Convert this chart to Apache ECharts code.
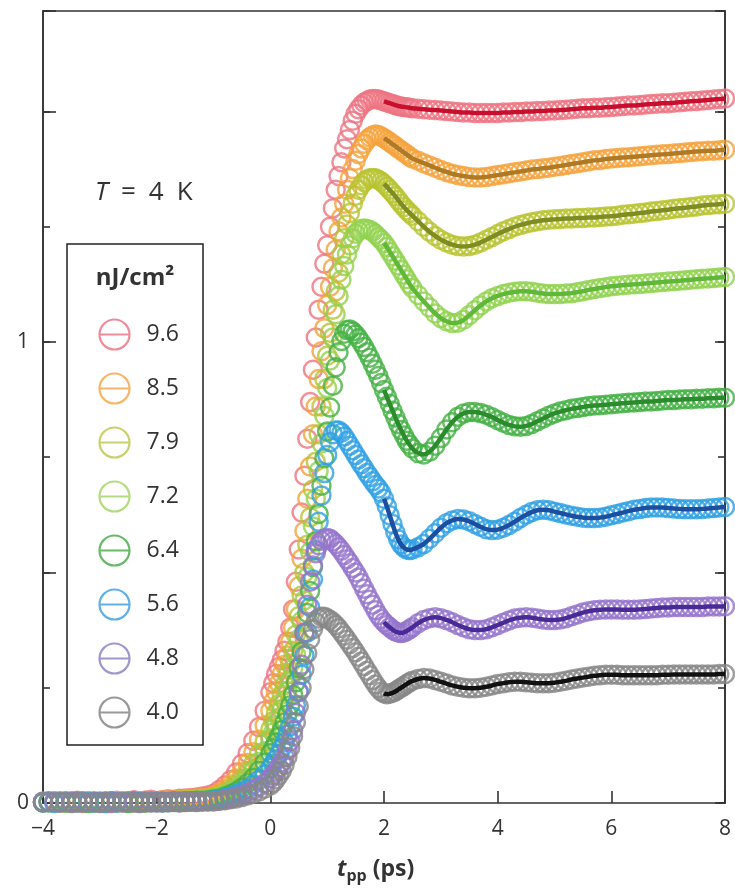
<!DOCTYPE html>
<html><head><meta charset="utf-8">
<script src="https://cdn.jsdelivr.net/npm/echarts@6/dist/echarts.min.js"></script>
<style>html,body{margin:0;padding:0;background:#fff}#c{width:735px;height:892px}</style>
</head><body><div id="c"></div>
<script>
// time axis (ps)
const times = [
-4,-3.9,-3.8,-3.7,-3.6,-3.5,-3.4,-3.3,-3.2,-3.1,
-3,-2.9,-2.8,-2.7,-2.6,-2.5,-2.4,-2.3,-2.2,-2.1,
-2,-1.9,-1.8,-1.7,-1.6,-1.5,-1.4,-1.3,-1.2,
-1.1,-1,-0.9,-0.8,-0.7,-0.6,-0.5,-0.4,-0.3,-0.2,-0.1,
0,0.05,0.1,0.15,0.2,0.25,0.3,0.35,0.4,0.45,
0.5,0.55,0.6,0.65,0.7,0.75,0.8,0.85,0.9,0.95,
1,1.05,1.1,1.15,1.2,1.25,1.3,1.35,1.4,1.45,
1.5,1.55,1.6,1.65,1.7,1.75,1.8,1.85,1.9,1.95,
2,2.05,2.1,2.15,2.2,2.25,2.3,2.35,2.4,2.45,
2.5,
2.6,2.7,2.8,2.9,3,3.1,3.2,3.3,3.4,3.5,
3.6,3.7,3.8,3.9,4,4.1,4.2,4.3,4.4,4.5,
4.6,4.7,4.8,4.9,5,5.1,5.2,5.3,5.4,5.5,
5.6,5.7,5.8,5.9,6,6.1,6.2,6.3,6.4,6.5,
6.6,6.7,6.8,6.9,7,7.1,7.2,7.3,7.4,7.5,
7.6,7.7,7.8,7.9,8];

const fluences = ['9.6','8.5','7.9','7.2','6.4','5.6','4.8','4.0'];

const v96 = [
0.003,-0.002,0.004,0.001,-0.003,0.002,0.005,0,0.003,0.004,
0.002,-0.001,0.003,0.005,0.002,0.004,0.006,0.003,0.005,0.007,
0.004,0.006,0.008,0.007,0.009,0.01,0.011,0.012,0.014,
0.016,0.02,0.028,0.038,0.05,0.066,0.085,0.108,0.135,0.165,0.2,
0.24,0.26,0.28,0.295,0.31,0.33,0.35,0.38,0.42,0.48,
0.55,0.63,0.71,0.79,0.87,0.94,1.01,1.07,1.12,1.17,
1.21,1.25,1.29,1.33,1.36,1.39,1.42,1.44,1.46,1.48,
1.495,1.505,1.513,1.519,1.523,1.526,1.527,1.527,1.526,1.524,
1.522,1.52,1.518,1.516,1.514,1.512,1.511,1.51,1.509,1.508,
1.507,
1.506,1.505,1.504,1.503,1.502,1.501,1.5,1.499,1.498,1.498,
1.497,1.497,1.497,1.497,1.497,1.498,1.498,1.499,1.499,1.5,
1.5,1.501,1.501,1.502,1.502,1.503,1.504,1.505,1.506,1.507,
1.507,1.508,1.508,1.509,1.51,1.511,1.512,1.513,1.513,1.514,
1.515,1.516,1.517,1.518,1.518,1.519,1.52,1.521,1.522,1.523,
1.524,1.525,1.526,1.527,1.528];

const v85 = [
0.002,0.004,-0.001,0.003,0.001,-0.002,0.003,0.004,0.001,0.002,
0.004,0.001,-0.002,0.002,0.003,0.001,0.004,0.002,0.005,0.003,
0.004,0.006,0.005,0.006,0.007,0.008,0.009,0.01,0.011,
0.012,0.016,0.022,0.03,0.04,0.053,0.068,0.087,0.11,0.137,0.168,
0.2,0.22,0.24,0.26,0.28,0.3,0.32,0.35,0.38,0.42,
0.47,0.53,0.59,0.66,0.73,0.8,0.86,0.92,0.98,1.03,
1.08,1.12,1.16,1.2,1.24,1.27,1.3,1.33,1.355,1.375,
1.393,1.408,1.42,1.43,1.438,1.444,1.448,1.45,1.449,1.446,
1.442,1.438,1.434,1.429,1.425,1.42,1.416,1.411,1.407,1.402,
1.398,
1.393,1.388,1.383,1.378,1.373,1.369,1.365,1.362,1.36,1.358,
1.357,1.357,1.358,1.36,1.362,1.364,1.366,1.368,1.37,1.372,
1.374,1.375,1.377,1.378,1.38,1.382,1.384,1.386,1.388,1.39,
1.392,1.394,1.395,1.397,1.398,1.399,1.4,1.401,1.402,1.403,
1.404,1.405,1.406,1.407,1.408,1.409,1.41,1.411,1.412,1.413,
1.414,1.415,1.415,1.416,1.417];

const v79 = [
-0.001,0.003,0.002,-0.002,0.004,0.001,0.002,-0.001,0.003,0.002,
0.001,0.003,-0.001,0.002,0.004,0.001,0.002,0.003,0.001,0.004,
0.003,0.004,0.005,0.004,0.006,0.006,0.007,0.008,0.008,
0.009,0.012,0.016,0.022,0.03,0.04,0.052,0.067,0.085,0.107,0.133,
0.16,0.178,0.196,0.215,0.235,0.256,0.278,0.302,0.33,0.365,
0.405,0.45,0.5,0.56,0.62,0.68,0.74,0.8,0.86,0.92,
0.97,1.02,1.07,1.11,1.15,1.19,1.225,1.255,1.28,1.3,
1.317,1.33,1.34,1.347,1.352,1.355,1.356,1.355,1.352,1.348,
1.343,1.337,1.33,1.323,1.316,1.308,1.3,1.293,1.286,1.28,
1.274,
1.262,1.25,1.239,1.23,1.222,1.216,1.211,1.208,1.207,1.208,
1.211,1.216,1.222,1.228,1.234,1.24,1.245,1.25,1.254,1.257,
1.26,1.262,1.264,1.265,1.266,1.267,1.268,1.268,1.269,1.269,
1.27,1.27,1.271,1.272,1.273,1.274,1.276,1.277,1.278,1.28,
1.281,1.283,1.284,1.286,1.287,1.289,1.29,1.291,1.293,1.294,
1.296,1.297,1.298,1.299,1.3];

const v72 = [
0.001,-0.002,0.003,0.002,0,0.003,-0.001,0.002,0.004,0.001,
0.002,0,0.003,-0.001,0.002,0.003,0.001,0.003,0.002,0.004,
0.002,0.003,0.004,0.003,0.005,0.004,0.005,0.006,0.006,
0.007,0.009,0.012,0.017,0.023,0.031,0.041,0.054,0.07,0.089,0.112,
0.138,0.153,0.168,0.185,0.203,0.222,0.243,0.266,0.292,0.322,
0.356,0.395,0.44,0.49,0.545,0.6,0.66,0.72,0.78,0.84,
0.9,0.96,1.01,1.06,1.1,1.135,1.165,1.19,1.21,1.225,
1.235,1.241,1.245,1.246,1.245,1.243,1.239,1.234,1.228,1.222,
1.215,1.206,1.196,1.186,1.176,1.166,1.156,1.146,1.136,1.126,
1.117,
1.102,1.088,1.075,1.062,1.052,1.045,1.041,1.042,1.048,1.058,
1.069,1.079,1.088,1.095,1.1,1.104,1.107,1.109,1.11,1.11,
1.109,1.107,1.105,1.104,1.104,1.104,1.105,1.106,1.108,1.11,
1.113,1.115,1.117,1.119,1.121,1.122,1.123,1.124,1.125,1.126,
1.127,1.128,1.129,1.13,1.131,1.132,1.133,1.134,1.135,1.136,
1.137,1.138,1.139,1.14,1.141];

const v64 = [
0.002,0.001,-0.002,0.003,0.002,-0.001,0.001,0.003,0,0.002,
-0.001,0.002,0.003,0.001,0.002,0,0.003,0.002,0.001,0.003,
0.002,0.003,0.002,0.004,0.003,0.004,0.004,0.005,0.005,
0.006,0.008,0.01,0.014,0.019,0.025,0.033,0.043,0.055,0.07,0.088,
0.108,0.119,0.131,0.144,0.158,0.174,0.192,0.212,0.235,0.262,
0.293,0.328,0.368,0.412,0.46,0.512,0.568,0.627,0.688,0.748,
0.806,0.858,0.905,0.945,0.978,1.002,1.018,1.026,1.027,1.023,
1.016,1.008,0.999,0.989,0.978,0.966,0.953,0.94,0.926,0.911,
0.896,0.881,0.866,0.851,0.836,0.822,0.809,0.797,0.786,0.777,
0.769,
0.759,0.756,0.762,0.775,0.792,0.81,0.826,0.838,0.845,0.848,
0.848,0.846,0.842,0.837,0.831,0.825,0.82,0.817,0.816,0.818,
0.822,0.828,0.834,0.84,0.845,0.849,0.852,0.855,0.857,0.859,
0.861,0.862,0.863,0.864,0.865,0.866,0.867,0.868,0.869,0.87,
0.871,0.871,0.872,0.873,0.874,0.874,0.875,0.876,0.876,0.877,
0.877,0.878,0.878,0.879,0.879];

const v56 = [
0.001,0.003,0,-0.002,0.002,0.001,0.003,-0.001,0.002,0.001,
0.002,0,0.003,0.001,-0.001,0.002,0.003,0.001,0.002,0.002,
0.003,0.001,0.002,0.003,0.002,0.003,0.003,0.004,0.004,
0.005,0.006,0.008,0.011,0.014,0.019,0.024,0.031,0.04,0.05,0.062,
0.076,0.085,0.095,0.106,0.118,0.132,0.148,0.166,0.187,0.212,
0.242,0.278,0.32,0.37,0.425,0.485,0.548,0.61,0.667,0.716,
0.755,0.783,0.8,0.808,0.808,0.803,0.795,0.785,0.775,0.765,
0.755,0.745,0.735,0.726,0.716,0.707,0.698,0.69,0.682,0.673,
0.66,0.643,0.624,0.605,0.587,0.572,0.561,0.554,0.55,0.549,
0.55,
0.555,0.562,0.573,0.585,0.597,0.607,0.613,0.616,0.615,0.611,
0.605,0.599,0.594,0.592,0.593,0.597,0.603,0.61,0.618,0.625,
0.631,0.635,0.636,0.635,0.632,0.629,0.626,0.623,0.621,0.619,
0.618,0.618,0.619,0.621,0.624,0.627,0.63,0.633,0.636,0.638,
0.64,0.641,0.641,0.641,0.64,0.639,0.638,0.637,0.637,0.637,
0.638,0.639,0.64,0.641,0.642];

const v48 = [
0.002,-0.001,0.002,0.001,-0.002,0.003,0.001,0.002,-0.001,0.002,
0.001,0.003,0,0.002,0.001,-0.001,0.002,0.001,0.003,0.002,
0.001,0.002,0.002,0.003,0.002,0.003,0.003,0.003,0.004,
0.004,0.004,0.005,0.007,0.01,0.013,0.017,0.022,0.028,0.035,0.043,
0.053,0.06,0.068,0.077,0.088,0.1,0.115,0.134,0.158,0.195,
0.24,0.3,0.37,0.43,0.48,0.515,0.542,0.559,0.569,0.573,
0.575,0.573,0.568,0.562,0.555,0.547,0.538,0.529,0.52,0.51,
0.5,0.489,0.477,0.465,0.453,0.441,0.43,0.418,0.408,0.399,
0.392,0.386,0.381,0.376,0.372,0.37,0.369,0.37,0.373,0.377,
0.381,
0.39,0.397,0.401,0.403,0.401,0.397,0.392,0.386,0.381,0.377,
0.375,0.375,0.377,0.381,0.386,0.391,0.396,0.4,0.402,0.403,
0.402,0.4,0.398,0.397,0.397,0.398,0.401,0.405,0.409,0.413,
0.416,0.418,0.419,0.42,0.42,0.42,0.419,0.419,0.419,0.42,
0.421,0.422,0.423,0.424,0.424,0.425,0.425,0.425,0.425,0.425,
0.425,0.426,0.426,0.426,0.427];

const v40 = [
0.001,0.002,-0.002,0.001,0.003,0,0.002,0.001,-0.001,0.002,
0,0.002,0.001,-0.001,0.002,0.003,0.001,0,0.002,0.001,
0.002,0.001,0.002,0.002,0.001,0.002,0.003,0.002,0.003,
0.003,0.004,0.005,0.006,0.008,0.01,0.013,0.016,0.02,0.025,0.031,
0.038,0.044,0.051,0.06,0.07,0.083,0.1,0.12,0.145,0.175,
0.21,0.25,0.29,0.325,0.355,0.377,0.392,0.4,0.404,0.404,
0.401,0.397,0.392,0.386,0.379,0.371,0.363,0.354,0.345,0.336,
0.327,0.317,0.307,0.297,0.287,0.277,0.267,0.257,0.249,0.242,
0.238,0.236,0.237,0.239,0.242,0.246,0.25,0.254,0.258,0.262,
0.265,
0.269,0.271,0.27,0.267,0.263,0.259,0.255,0.252,0.25,0.249,
0.249,0.25,0.252,0.255,0.258,0.26,0.262,0.263,0.263,0.262,
0.261,0.26,0.26,0.26,0.261,0.263,0.265,0.268,0.27,0.272,
0.274,0.276,0.277,0.278,0.278,0.278,0.277,0.277,0.277,0.277,
0.277,0.277,0.277,0.278,0.278,0.279,0.279,0.279,0.279,0.279,
0.279,0.279,0.279,0.28,0.28];

const seriesValues = [v96, v85, v79, v72, v64, v56, v48, v40];
const xTicks = [-4, -2, 0, 2, 4, 6, 8];
const yLabelled = [0, 1];
const fitStart = 2;

const circleColors = ['#ee7482','#f5a33c','#b8c32f','#91d24f','#44b043','#30a0e3','#9574cc','#878787'];
const fitColors = ['#c8102e','#b07a24','#7e8c22','#5fb838','#2a8c2c','#1c4ea2','#4a2a96','#111111'];
const legendColors = ['#ea7080','#f2a444','#bcc448','#a3d264','#44a844','#3a9be0','#8a7cc2','#7f7f7f'];

const chart = echarts.init(document.getElementById('c'), null, {renderer: 'canvas'});
const FONT = '"Open Sans", "Noto Sans", sans-serif';
const series = [];
const fitIdx = times.findIndex(t => t >= fitStart);
seriesValues.forEach((vals, i) => {
  if (vals.length !== times.length) console.warn('length mismatch', fluences[i], vals.length, times.length);
  series.push({
    name: fluences[i], type: 'scatter', xAxisIndex: 0, yAxisIndex: 0,
    data: times.map((t, k) => [t, vals[k]]),
    symbol: 'circle', symbolSize: 18, silent: true, z: 2,
    itemStyle: {color: 'rgba(0,0,0,0)', borderColor: circleColors[i], borderWidth: 2.5},
    emphasis: {disabled: true}
  });
});
seriesValues.forEach((vals, i) => {
  series.push({
    name: fluences[i] + ' fit', type: 'line', xAxisIndex: 0, yAxisIndex: 0,
    data: times.slice(fitIdx).map((t, k) => [t, vals[fitIdx + k]]),
    showSymbol: false, symbol: 'none', smooth: 0.4, silent: true, z: 3,
    lineStyle: {color: fitColors[i], width: 4.5}
  });
});

const axisLine = {show: true, onZero: false, lineStyle: {color: '#333', width: 1.6}};
const yBase = {type: 'value', min: 0, max: 1.718, splitLine: {show: false}, axisLine: axisLine};

chart.setOption({
  animation: false,
  backgroundColor: '#fff',
  grid: {left: 43, right: 10, top: 11, bottom: 89, containLabel: false},
  xAxis: [
    {type: 'value', min: -4, max: 8, interval: 2, position: 'bottom',
     axisLine: axisLine, splitLine: {show: false},
     axisTick: {show: true, inside: true, length: 12, lineStyle: {color: '#333', width: 1.6}},
     axisLabel: {margin: 16, fontSize: 21, color: '#333', fontFamily: FONT,
       formatter: v => xTicks.indexOf(v) >= 0 ? String(v).replace('-', '\u2212') : ''}},
    {type: 'value', min: -4, max: 8, position: 'top', axisLine: axisLine,
     splitLine: {show: false}, axisTick: {show: false}, axisLabel: {show: false}}
  ],
  yAxis: [
    Object.assign({}, yBase, {position: 'left', interval: 0.5,
      axisTick: {show: true, inside: true, length: 13, lineStyle: {color: '#333', width: 1.6}},
      axisLabel: {margin: 14, fontSize: 21, color: '#333', fontFamily: FONT,
        formatter: v => yLabelled.indexOf(v) >= 0 ? String(v) : ''}}),
    Object.assign({}, yBase, {position: 'left', interval: 0.25,
      axisTick: {show: true, inside: true, length: 7, lineStyle: {color: '#333', width: 1.6}},
      axisLabel: {show: false}}),
    Object.assign({}, yBase, {position: 'right', interval: 0.5,
      axisTick: {show: true, inside: true, length: 10, lineStyle: {color: '#333', width: 1.6}},
      axisLabel: {show: false}}),
    Object.assign({}, yBase, {position: 'right', interval: 0.25,
      axisTick: {show: true, inside: true, length: 7, lineStyle: {color: '#333', width: 1.6}},
      axisLabel: {show: false}})
  ],
  legend: {
    data: fluences.map((f, i) => ({name: f, itemStyle: {color: 'none', borderColor: legendColors[i], borderWidth: 2.2}})),
    icon: 'path://M2,16A14,14 0 1,1 30,16A14,14 0 1,1 2,16ZM2,16L30,16',
    orient: 'vertical', left: 97, top: 317, itemWidth: 30, itemHeight: 30, itemGap: 19,
    padding: 0, selectedMode: false,
    textStyle: {fontSize: 23, color: '#333', fontFamily: FONT, padding: [0, 0, 0, 12]}
  },
  graphic: [
    {type: 'rect', silent: true, shape: {x: 67, y: 244, width: 136, height: 501},
     style: {fill: 'none', stroke: '#222', lineWidth: 1.5}},
    {type: 'text', silent: true, x: 135, y: 278,
     style: {text: 'nJ/cm\u00b2', font: 'bold 24px ' + FONT, fill: '#333', align: 'center', verticalAlign: 'middle'}},
    {type: 'text', silent: true, x: 95, y: 193,
     style: {text: '{i|T}{n|\u2002=\u20024\u2002K}', verticalAlign: 'middle',
       rich: {i: {fontSize: 26, fontStyle: 'italic', fontFamily: FONT, fill: '#333'},
              n: {fontSize: 26, fontFamily: FONT, fill: '#333'}}}},
    {type: 'text', silent: true, x: 337, y: 869,
     style: {text: '{t|t}{s|pp}{n| (ps)}', verticalAlign: 'middle',
       rich: {t: {fontSize: 23, fontWeight: 'bold', fontStyle: 'italic', fontFamily: FONT, fill: '#333', lineHeight: 30, verticalAlign: 'middle'},
              s: {fontSize: 16, fontWeight: 'bold', fontFamily: FONT, fill: '#333', lineHeight: 16, verticalAlign: 'bottom'},
              n: {fontSize: 23, fontWeight: 'bold', fontFamily: FONT, fill: '#333', lineHeight: 30, verticalAlign: 'middle'}}}}
  ],
  series: series
});
</script></body></html>
